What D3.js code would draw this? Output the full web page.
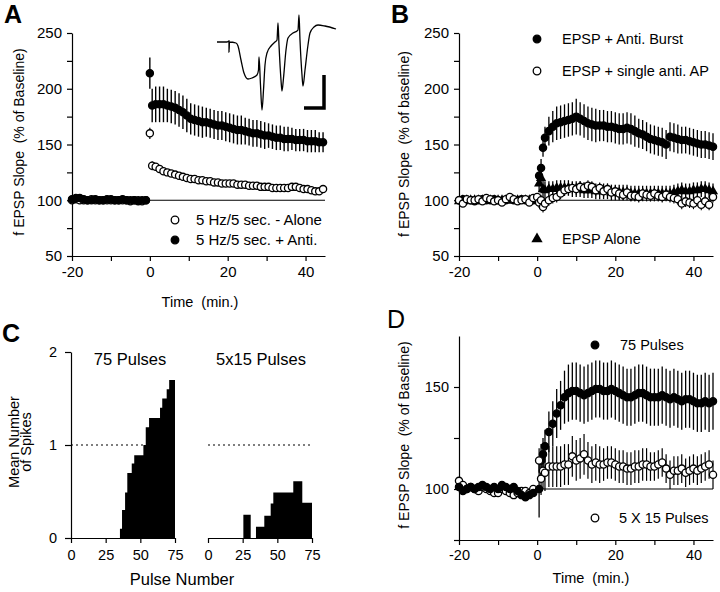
<!DOCTYPE html>
<html><head><meta charset="utf-8">
<script src="https://cdn.jsdelivr.net/npm/d3@7"></script>
<style>
body{margin:0;background:#fff;}
svg{display:block;font-family:"Liberation Sans",Arial,Helvetica,sans-serif;}
svg text{white-space:pre;}
</style></head><body>
<svg id="c" width="720" height="592"></svg>
<script>
// ---------------- DATA ----------------
// Panel A
const tBaseA = [-20,-19,-18,-17,-16,-15,-14,-13,-12,-11,-10,-9,-8,-7,-6,-5,-4,-3,-2,-1];
const aFilledBase = [101,102,102,101,100,100,101,100,100,101,101,100,100,101,100,100,100,99,100,100];
const aOpenBase = [100,101,100,100,100,101,100,100,100,100,100,100,100,100,100,99,100,100,99,100];
const tZeroA = [0];
const aFilledZero = [214], aFilledZeroErr = [14];
const aOpenZero = [160], aOpenZeroErr = [5];
const tPostA = [0.6,1.5,2.5,3.5,4.5,5.5,6.5,7.5,8.5,9.5,10.5,11.5,12.5,13.5,14.5,15.5,16.5,17.5,18.5,19.5,20.5,21.5,22.5,23.5,24.5,25.5,26.5,27.5,28.5,29.5,30.5,31.5,32.5,33.5,34.5,35.5,36.5,37.5,38.5,39.5,40.5,41.5,42.5,43.5,44.5];
const aFilledPost = [185,186,186,186,185,184,183,181,179,176,173,172,171,170,170,169,168,167,167,166,165,164,163,163,162,161,160,160,159,158,158,157,156,156,155,155,155,154,154,154,153,153,153,152,152];
const aFilledErr = [15,16,16,16,15,15,15,15,15,15,14,14,14,14,13,13,13,13,13,13,13,13,13,13,12,12,12,12,12,12,11,11,11,11,11,11,10,10,10,10,10,10,10,9,9];
const aOpenPost = [131,130,128,126,125,124,123,122,121,120,119,119,118,118,117,117,116,116,115,115,115,115,114,114,114,113,113,113,112,112,112,111,111,111,111,111,112,112,111,110,110,109,108,108,110];
const aOpenErr = [4,3,3,3,3,3,3,3,3,3,3,3,3,3,3,3,3,3,3,3,3,3,3,3,3,3,3,3,3,3,3,3,3,3,3,3,3,3,3,3,3,3,3,3,3];
// inset trace (ms, mV) and scale bar
const traceT = [0,2,2.4,2.4,2.5,3.8,4.2,4.8,5.4,6.2,7,8,8.3,8.4,8.7,9,9.3,9.6,10,10.8,11.6,12,12.2,12.4,12.8,13,13.3,13.8,14.2,15.2,16,16.2,16.4,16.6,17,17.2,17.6,18.2,18.6,19.4,20.2,21.6,23.8];
const traceV = [0,0,0.05,-0.5,0,-0.05,-0.2,-0.9,-1.55,-1.85,-1.8,-1.65,-1.4,-0.75,-2.15,-3.4,-2.4,-1.15,-0.55,-0.2,0,0.1,0.95,-0.15,-1.9,-2.45,-1.8,-0.4,0.2,0.45,0.55,0.6,1.35,0.1,-1.65,-2.2,-1.4,-0.15,0.45,0.75,0.85,0.8,0.65];
const scaleBarMs = 4, scaleBarMv = 1.65;

// Panel B
const tBaseB = [-20,-19,-18,-17,-16,-15,-14,-13,-12,-11,-10,-9,-8,-7,-6,-5,-4,-3,-2,-1,0];
const bFilledBase = [100,101,100,100,99,100,101,100,100,101,100,99,100,101,100,100,101,100,99,100,100];
const bOpenBase = [100,97,101,100,100,101,99,102,101,99,100,98,101,103,101,99,100,101,98,102,103];
const bTriBase = [99,100,100,100,100,100,100,100,100,100,100,100,100,100,100,100,100,100,100,100,100];
const tPostB = [0.5,1,1.5,2,3,4,5,6,7,8,9,10,11,12,13,14,15,16,17,18,19,20,21,22,23,24,25,26,27,28,29,30,31,32,33,34,35,36,37,38,39,40,41,42,43,44,45];
const bFilledPost = [122,129,147,156,162,166,169,170,171,172,173,175,173,171,169,168,167,167,167,166,166,165,164,164,165,164,162,160,159,157,155,154,153,152,150,157,156,155,154,154,153,152,151,150,150,149,148];
const bFilledErr = [6,8,8,10,13,14,15,15,15,15,15,16,15,15,15,15,15,14,14,14,14,14,14,14,14,14,14,13,13,13,13,13,13,13,13,13,13,13,12,12,12,12,12,12,12,12,12];
const bOpenPost = [98,100,94,97,100,102,103,106,109,110,111,110,112,111,113,112,109,111,108,110,107,108,106,105,107,104,104,103,106,105,104,106,104,103,105,103,102,101,97,99,98,97,100,96,99,96,103];
const bOpenErr = [5,5,5,5,5,5,5,5,5,5,5,5,5,5,5,5,5,5,5,5,5,5,5,5,5,5,5,5,5,5,5,5,5,5,5,5,5,5,5,5,5,5,5,5,5,5,5];
const bTriPost = [115,120,110,109,110,110,111,111,111,111,110,110,110,109,109,109,108,108,108,108,107,107,107,107,107,106,106,106,106,106,106,106,106,106,106,106,107,108,109,108,108,109,109,110,110,109,108];
const bTriErr = [8,8,8,8,7,7,7,7,7,7,7,7,7,7,7,7,7,7,7,7,7,7,7,7,7,7,7,7,7,7,7,7,7,7,7,7,7,7,7,7,7,7,7,7,7,7,7];

// Panel C (spike histograms): bin edges (pulse number) and mean spikes per bin
const c75Edges = [35.3,36.8,39,40.6,43.8,45.6,52.2,53.9,56.3,64.2,65.8,69,70.8,75];
const c75Means = [0.1,0.3,0.49,0.7,0.8,0.89,1.0,1.19,1.29,1.4,1.5,1.6,1.7];
const c5x15Edges = [25.5,30.8,34.6,40.6,45.2,47.1,61.5,68,75];
const c5x15Means = [0.25,0,0.12,0.24,0.37,0.49,0.61,0.38];
const cTicks = [0,25,50,75];

// Panel D
const tBaseD = [-20,-19,-18,-17,-16,-15,-14,-13,-12,-11,-10,-9,-8,-7,-6,-5,-4,-3,-2,-1];
const dFilledBase = [101,99,100,101,100,101,102,101,100,101,100,102,101,100,101,99,97,96,97,98];
const dOpenBase = [104,102,100,101,100,99,101,100,99,98,98,100,99,98,97,98,99,99,98,100];
const tPostD = [0.5,1,1.5,2,3,4,5,6,7,8,9,10,11,12,13,14,15,16,17,18,19,20,21,22,23,24,25,26,27,28,29,30,31,32,33,34,35,36,37,38,39,40,41,42,43,44,45];
const dFilledPost = [100,114,117,121,128,132,137,141,145,147,148,148,147,146,147,148,149,149,148,148,149,148,147,146,145,145,146,147,147,146,145,145,145,146,145,144,145,144,143,144,144,143,142,142,143,142,143];
const dFilledErr = [14,8,8,8,10,11,12,12,13,14,14,14,14,14,14,14,14,14,14,14,14,14,14,14,14,14,14,14,14,14,14,14,14,14,14,14,14,14,14,14,14,14,14,14,14,14,14];
const dOpenPost = [114,105,109,108,111,111,111,111,112,112,116,114,115,117,114,112,113,112,112,113,113,112,111,111,110,110,111,111,112,112,111,111,112,113,110,107,109,109,110,108,109,110,109,110,111,112,107];
const dOpenErr = [6,8,9,9,10,10,10,10,10,10,10,10,10,10,9,9,9,9,8,8,8,8,8,8,8,8,8,8,8,8,7,7,7,7,7,7,7,7,7,7,7,7,7,7,7,7,7];

// ---------------- DRAWING ----------------
const svg = d3.select("#c");
const FONT = "Liberation Sans, Arial, Helvetica, sans-serif";
const fmt = d => String(d);

function styleAxis(a, fs) {
  a.attr("font-size", fs).attr("font-family", FONT);
  a.selectAll("path,line").attr("stroke", "#000").attr("stroke-width", 1.2);
  a.selectAll("text").attr("fill", "#000");
}
function drawAxes(g, x, y, o) {
  const y0 = y.range()[0], x0 = x.range()[0], fs = o.fs || 15;
  g.append("g").attr("transform", `translate(0,${y0})`)
    .call(d3.axisBottom(x).tickValues(o.xMajor).tickSize(5).tickSizeOuter(0).tickPadding(5).tickFormat(fmt))
    .call(a => styleAxis(a, fs));
  if (o.xMinor) g.append("g").attr("transform", `translate(0,${y0})`)
    .call(d3.axisBottom(x).tickValues(o.xMinor).tickSize(5).tickFormat(""))
    .call(a => { a.select(".domain").remove(); styleAxis(a, fs); });
  g.append("g").attr("transform", `translate(${x0},0)`)
    .call(d3.axisLeft(y).tickValues(o.yMajor).tickSize(5).tickSizeOuter(0).tickPadding(5).tickFormat(fmt))
    .call(a => styleAxis(a, fs));
  if (o.yMinor) g.append("g").attr("transform", `translate(${x0},0)`)
    .call(d3.axisLeft(y).tickValues(o.yMinor).tickSize(5).tickFormat(""))
    .call(a => { a.select(".domain").remove(); styleAxis(a, fs); });
}
function zip(t, v, e) { return t.map((d, i) => ({ t: d, v: v[i], e: e ? e[i] : 0 })); }
function errBars(g, x, y, data, w) {
  g.append("g").selectAll("line").data(data).join("line")
    .attr("x1", d => x(d.t)).attr("x2", d => x(d.t))
    .attr("y1", d => y(d.v - d.e)).attr("y2", d => y(d.v + d.e))
    .attr("stroke", "#000").attr("stroke-width", w);
}
function dots(g, x, y, data, filled, r) {
  g.append("g").selectAll("circle").data(data).join("circle")
    .attr("cx", d => x(d.t)).attr("cy", d => y(d.v)).attr("r", r)
    .attr("fill", filled ? "#000" : "#fff").attr("stroke", "#000").attr("stroke-width", 1.3);
}
function tris(g, x, y, data, size) {
  const sym = d3.symbol(d3.symbolTriangle).size(size);
  g.append("g").selectAll("path").data(data).join("path")
    .attr("transform", d => `translate(${x(d.t)},${y(d.v)})`).attr("d", sym).attr("fill", "#000");
}
function refLine(g, x, y, t0, t1) {
  g.append("line").attr("x1", x(t0)).attr("x2", x(t1)).attr("y1", y(100)).attr("y2", y(100))
    .attr("stroke", "#000").attr("stroke-width", 1.2);
}
function text(g, x, y, s, o = {}) {
  const t = g.append("text").attr("x", x).attr("y", y).text(s)
    .attr("font-size", o.fs || 15).attr("font-family", FONT).attr("fill", "#000")
    .attr("text-anchor", o.anchor || "start").attr("xml:space", "preserve");
  if (o.weight) t.attr("font-weight", o.weight);
  if (o.rot) t.attr("transform", `rotate(-90,${x},${y})`);
  return t;
}
function legendDot(g, cx, cy, filled) {
  g.append("circle").attr("cx", cx).attr("cy", cy).attr("r", 3.8)
    .attr("fill", filled ? "#000" : "#fff").attr("stroke", "#000").attr("stroke-width", 1.3);
}

// ---- Panel A ----
{
  const g = svg.append("g");
  const x = d3.scaleLinear().domain([-20, 45]).range([72, 325]);
  const y = d3.scaleLinear().domain([50, 250]).range([256, 33]);
  drawAxes(g, x, y, { xMajor: [-20, 0, 20, 40], xMinor: [-10, 10, 30], yMajor: [50, 100, 150, 200, 250], yMinor: [75, 125, 175, 225] });
  refLine(g, x, y, -20, 45);
  const op = zip(tPostA, aOpenPost, aOpenErr), fp = zip(tPostA, aFilledPost, aFilledErr);
  const oz = zip(tZeroA, aOpenZero, aOpenZeroErr), fz = zip(tZeroA, aFilledZero, aFilledZeroErr);
  errBars(g, x, y, fp, 1.4); errBars(g, x, y, op, 1.2);
  errBars(g, x, y, fz, 1.4); errBars(g, x, y, oz, 1.2);
  dots(g, x, y, zip(tBaseA, aOpenBase), false, 3.6);
  dots(g, x, y, zip(tBaseA, aFilledBase), true, 3.6);
  dots(g, x, y, op, false, 3.6); dots(g, x, y, oz, false, 3.6);
  dots(g, x, y, fp, true, 3.6); dots(g, x, y, fz, true, 3.6);
  // inset trace
  const tx = d3.scaleLinear().domain([0, 24]).range([217, 337]);
  const ty = d3.scaleLinear().domain([-3.4, 1.35]).range([110, 15]);
  g.append("path").datum(traceT.map((d, i) => [d, traceV[i]]))
    .attr("d", d3.line().x(d => tx(d[0])).y(d => ty(d[1])).curve(d3.curveMonotoneX))
    .attr("fill", "none").attr("stroke", "#000").attr("stroke-width", 1.3);
  const sbx = 21.4, sby = -3.3;
  g.append("path").attr("d", `M${tx(sbx - scaleBarMs)},${ty(sby)}H${tx(sbx)}V${ty(sby + scaleBarMv)}`)
    .attr("fill", "none").attr("stroke", "#000").attr("stroke-width", 3.5);
  // legend
  legendDot(g, 175, 220, false); text(g, 196, 225, "5 Hz/5 sec. - Alone");
  legendDot(g, 175, 240, true); text(g, 196, 245, "5 Hz/5 sec. + Anti.");
  text(g, 24, 142, "f EPSP Slope  (% of Baseline)", { fs: 14, rot: true, anchor: "middle" });
  text(g, 200, 307, "Time  (min.)", { fs: 14.5, anchor: "middle" });
  text(g, 4, 23, "A", { fs: 25, weight: "bold" });
}

// ---- Panel B ----
{
  const g = svg.append("g");
  const x = d3.scaleLinear().domain([-20, 45]).range([459, 713]);
  const y = d3.scaleLinear().domain([50, 250]).range([256, 33]);
  drawAxes(g, x, y, { xMajor: [-20, 0, 20, 40], xMinor: [-10, 10, 30], yMajor: [50, 100, 150, 200, 250], yMinor: [75, 125, 175, 225] });
  refLine(g, x, y, 0, 45);
  const tp = zip(tPostB, bTriPost, bTriErr), fp = zip(tPostB, bFilledPost, bFilledErr), op = zip(tPostB, bOpenPost, bOpenErr);
  errBars(g, x, y, tp, 1.3); errBars(g, x, y, fp, 1.3); errBars(g, x, y, op, 1.1);
  tris(g, x, y, zip(tBaseB, bTriBase), 45);
  tris(g, x, y, tp, 45);
  dots(g, x, y, zip(tBaseB, bFilledBase), true, 3.6);
  dots(g, x, y, fp, true, 3.6);
  dots(g, x, y, zip(tBaseB, bOpenBase), false, 3.6);
  dots(g, x, y, op, false, 3.6);
  legendDot(g, 537, 39, true); text(g, 562, 44, "EPSP + Anti. Burst", { fs: 14.5 });
  legendDot(g, 537, 71, false); text(g, 562, 76, "EPSP + single anti. AP", { fs: 14.5 });
  g.append("path").attr("transform", "translate(537,239)").attr("d", d3.symbol(d3.symbolTriangle).size(55)()).attr("fill", "#000");
  text(g, 562, 244, "EPSP Alone", { fs: 14.5 });
  text(g, 409, 144, "f EPSP Slope  (% of baseline)", { fs: 14, rot: true, anchor: "middle" });
  text(g, 391, 23, "B", { fs: 25, weight: "bold" });
}

// ---- Panel C ----
{
  const g = svg.append("g");
  const y = d3.scaleLinear().domain([0, 2]).range([538, 352]);
  const xl = d3.scaleLinear().domain([0, 75]).range([71, 175]);
  const xr = d3.scaleLinear().domain([0, 75]).range([208, 312]);
  // bars drawn as one stepped area per histogram
  const bars = (xs, edges, means) => {
    const pts = edges.map((e, i) => ({ e, m: i < means.length ? means[i] : means[means.length - 1] }));
    g.append("path").datum(pts)
      .attr("d", d3.area().curve(d3.curveStepAfter).x(d => xs(d.e)).y0(y(0)).y1(d => y(d.m)))
      .attr("fill", "#000");
  };
  bars(xl, c75Edges, c75Means);
  bars(xr, c5x15Edges, c5x15Means);
  // dotted line at 1
  [[xl, 0, 52.2], [xr, 0, 75]].forEach(([xs, a, b]) => g.append("line")
    .attr("x1", xs(a)).attr("x2", xs(b)).attr("y1", y(1)).attr("y2", y(1))
    .attr("stroke", "#000").attr("stroke-width", 1.2).attr("stroke-dasharray", "2,3"));
  // axes
  [xl, xr].forEach(xs => g.append("g").attr("transform", `translate(0,${y(0)})`)
    .call(d3.axisBottom(xs).tickValues(cTicks).tickSize(5).tickSizeOuter(0).tickPadding(7).tickFormat(fmt))
    .call(a => styleAxis(a, 14.5)));
  g.append("g").attr("transform", `translate(${xl(0)},0)`)
    .call(d3.axisLeft(y).tickValues([0, 1, 2]).tickSize(6).tickSizeOuter(0).tickPadding(8).tickFormat(fmt))
    .call(a => styleAxis(a, 14.5));
  text(g, 130, 365, "75 Pulses", { fs: 16.5, anchor: "middle" });
  text(g, 261, 365, "5x15 Pulses", { fs: 16.5, anchor: "middle" });
  text(g, 19, 442, "Mean Number", { fs: 14.5, rot: true, anchor: "middle" });
  text(g, 31, 442, "of Spikes", { fs: 14.5, rot: true, anchor: "middle" });
  text(g, 182, 585, "Pulse Number", { fs: 16.5, anchor: "middle" });
  text(g, 2, 342, "C", { fs: 25, weight: "bold" });
}

// ---- Panel D ----
{
  const g = svg.append("g");
  const x = d3.scaleLinear().domain([-20, 45]).range([459, 713]);
  const y = d3.scaleLinear().domain([75, 175]).range([540, 336]);
  drawAxes(g, x, y, { fs: 14.5, xMajor: [-20, 0, 20, 40], xMinor: [-10, 10, 30], yMajor: [100, 150], yMinor: [75, 125] });
  refLine(g, x, y, 0, 45);
  const fp = zip(tPostD, dFilledPost, dFilledErr), op = zip(tPostD, dOpenPost, dOpenErr);
  errBars(g, x, y, fp, 1.3); errBars(g, x, y, op, 1.2);
  dots(g, x, y, zip(tBaseD, dOpenBase), false, 3.6);
  dots(g, x, y, zip(tBaseD, dFilledBase), true, 3.6);
  dots(g, x, y, fp, true, 3.6);
  dots(g, x, y, op, false, 3.6);
  legendDot(g, 595, 345, true); text(g, 620, 350, "75 Pulses", { fs: 14.5 });
  legendDot(g, 595, 518, false); text(g, 619, 523, "5 X 15 Pulses", { fs: 14.5 });
  text(g, 409, 435, "f EPSP Slope  (% of Baseline)", { fs: 14, rot: true, anchor: "middle" });
  text(g, 591, 583, "Time  (min.)", { fs: 14.5, anchor: "middle" });
  text(g, 387, 328, "D", { fs: 25 });
}
</script>
</body></html>
